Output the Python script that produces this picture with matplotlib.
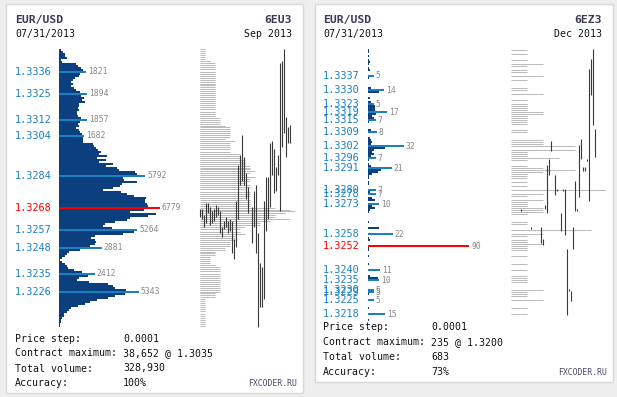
import matplotlib
matplotlib.use('Agg')
import matplotlib.pyplot as plt
import numpy as np
from matplotlib.patches import Rectangle
from matplotlib.transforms import offset_copy

W, H = 617, 397
TICK = 0.0001
MONO = 'DejaVu Sans Mono'
NAVY = '#0b3f7e'
BLUE = '#1a80c2'
RED = '#ff0000'

# ---------------- EUR/USD Sep 2013 (6EU3) ----------------
sep_top = 1.3347  # first level of the profile, one value per tick downward
sep_vol = [
    134, 268, 402, 402, 536, 134, 201, 1139, 1273, 1474,
    1608, 1821, 1407, 1340, 1072, 938, 804, 938, 804, 1005,
    1139, 1407, 1894, 1474, 1675, 1541, 1742, 1340, 1340, 1273,
    1340, 1206, 1206, 1273, 1474, 1857, 1407, 1273, 1340, 1139,
    1340, 1407, 1541, 1682, 1608, 1608, 1608, 2278, 2345, 2479,
    2613, 2814, 2680, 3216, 2546, 3149, 2680, 3618, 3149, 3886,
    4020, 5092, 5226, 5792, 4288, 4355, 5226, 4221, 4087, 3618,
    2948, 4154, 4556, 5025, 5829, 5762, 5762, 5896, 5963, 6779,
    5695, 4757, 6499, 5963, 4757, 4556, 3752, 3082, 2948, 3551,
    5264, 5025, 4288, 2410, 2144, 2400, 2479, 2420, 2077, 2881,
    1407, 670, 536, 402, 201, 67, 201, 402, 536, 603,
    1005, 1541, 2412, 1950, 1340, 1206, 2010, 3283, 3618, 3752,
    4489, 5343, 4422, 3752, 3283, 2546, 2077, 1742, 1273, 804,
    670, 536, 335, 335, 201, 134, 134, 67, 67,
]
sep_marks = [1.3336, 1.3325, 1.3312, 1.3304, 1.3284, 1.3268,
             1.3257, 1.3248, 1.3235, 1.3226]
sep_tpo = [
    1, 1, 1, 1, 1, 1, 2, 3, 3, 3,
    3, 3, 3, 3, 3, 3, 3, 3, 3, 3,
    3, 3, 3, 3, 3, 3, 3, 3, 3, 3,
    3, 3, 3, 3, 4, 4, 4, 4, 5, 6,
    6, 6, 6, 6, 6, 5, 7, 6, 6, 6,
    6, 6, 8, 8, 8, 9, 9, 9, 10, 10,
    10, 11, 10, 9, 11, 10, 10, 9, 10, 10,
    9, 10, 10, 10, 9, 10, 10, 10, 10, 15,
    18, 19, 17, 15, 15, 18, 14, 12, 12, 9,
    8, 8, 9, 7, 7, 7, 6, 6, 6, 5,
    5, 3, 3, 3, 2, 2, 2, 2, 3, 4,
    4, 4, 4, 4, 4, 4, 4, 4, 4, 4,
    4, 4, 3, 3, 3, 1, 1, 1, 1, 1,
    1, 1, 1, 1, 1, 1, 1, 1, 1,
]
nan = np.nan
sep_high = [1.3267, 1.3267, 1.3264, 1.3270, 1.3270, 1.3268, 1.3266, 1.3267, 1.3269, 1.3268,
            1.3266, 1.3258, 1.3261, 1.3263, 1.3261, 1.3262, 1.3261, 1.3252, 1.3271, 1.3289,
            1.3294, 1.3304, 1.3293, 1.3285, 1.3278, nan, 1.3268, 1.3276, 1.3279, 1.3255,
            1.3240, 1.3238, 1.3271, 1.3283, 1.3283, 1.3300, 1.3301, 1.3297, 1.3288, 1.3294,
            1.3340, 1.3341, 1.3347, 1.3313, 1.3308, 1.3309]
sep_low = [1.3264, 1.3263, 1.3259, 1.3261, 1.3266, 1.3260, 1.3261, 1.3262, 1.3264, 1.3265,
           1.3256, 1.3254, 1.3258, 1.3259, 1.3256, 1.3257, 1.3246, 1.3243, 1.3249, 1.3263,
           1.3280, 1.3282, 1.3280, 1.3273, 1.3266, nan, 1.3251, 1.3259, 1.3246, 1.3209,
           1.3219, 1.3219, 1.3223, 1.3257, 1.3263, 1.3269, 1.3285, 1.3276, 1.3277, 1.3285,
           1.3267, 1.3299, 1.3306, 1.3294, 1.3301, 1.3301]
sep_info = ['0.0001', '38,652 @ 1.3035', '328,930', '100%']

# ---------------- EUR/USD Dec 2013 (6EZ3) ----------------
dec_prices = [1.3350, 1.3349, 1.3347, 1.3345, 1.3344, 1.3343, 1.3341, 1.3340, 1.3337, 1.3336,
              1.3331, 1.3330, 1.3329, 1.3326, 1.3324, 1.3323, 1.3322, 1.3321, 1.3320, 1.3319,
              1.3318, 1.3317, 1.3316, 1.3315, 1.3314, 1.3310, 1.3309, 1.3306, 1.3305, 1.3304,
              1.3303, 1.3302, 1.3301, 1.3300, 1.3299, 1.3298, 1.3297, 1.3296, 1.3295, 1.3293,
              1.3292, 1.3291, 1.3290, 1.3289, 1.3288, 1.3287, 1.3286, 1.3284, 1.3283, 1.3280,
              1.3279, 1.3278, 1.3276, 1.3275, 1.3273, 1.3272, 1.3271, 1.3270, 1.3269, 1.3264,
              1.3261, 1.3258, 1.3256, 1.3255, 1.3252, 1.3251, 1.3250, 1.3247, 1.3243, 1.3240,
              1.3237, 1.3236, 1.3235, 1.3230, 1.3229, 1.3228, 1.3225, 1.3221, 1.3218, 1.3215]
dec_vols = [1, 1, 1, 1, 2, 1, 1, 2, 5, 1,
            3, 14, 10, 2, 3, 5, 6, 6, 6, 17,
            7, 4, 5, 7, 1, 3, 8, 2, 3, 4,
            3, 32, 15, 5, 4, 5, 3, 7, 1, 1,
            3, 21, 12, 9, 4, 1, 1, 1, 1, 7,
            2, 7, 4, 6, 10, 4, 6, 2, 1, 1,
            10, 22, 1, 2, 90, 1, 1, 1, 1, 11,
            2, 9, 10, 5, 5, 1, 5, 1, 15, 1]
dec_marks = [1.3337, 1.3330, 1.3323, 1.3319, 1.3315, 1.3309, 1.3302, 1.3296, 1.3291,
             1.3280, 1.3278, 1.3273, 1.3258, 1.3252, 1.3240, 1.3235, 1.3230, 1.3229,
             1.3225, 1.3218]
dec_tpo_prices = [1.3350, 1.3348, 1.3345, 1.3343, 1.3342, 1.3340, 1.3339, 1.3337, 1.3335, 1.3331,
                  1.3330, 1.3328, 1.3325, 1.3323, 1.3322, 1.3321, 1.3320, 1.3319, 1.3318, 1.3317,
                  1.3316, 1.3315, 1.3314, 1.3313, 1.3310, 1.3309, 1.3305, 1.3304, 1.3303, 1.3302,
                  1.3300, 1.3299, 1.3298, 1.3297, 1.3296, 1.3295, 1.3292, 1.3291, 1.3290, 1.3289,
                  1.3288, 1.3287, 1.3286, 1.3284, 1.3282, 1.3280, 1.3278, 1.3277, 1.3275, 1.3274,
                  1.3273, 1.3272, 1.3271, 1.3270, 1.3269, 1.3268, 1.3264, 1.3263, 1.3260, 1.3258,
                  1.3257, 1.3255, 1.3254, 1.3253, 1.3252, 1.3251, 1.3250, 1.3247, 1.3243, 1.3240,
                  1.3237, 1.3236, 1.3235, 1.3234, 1.3230, 1.3229, 1.3228, 1.3227, 1.3225, 1.3221,
                  1.3218]
dec_tpo = [1, 1, 1, 2, 1, 1, 1, 2, 1, 1,
           1, 2, 1, 1, 1, 1, 1, 2, 2, 1,
           1, 1, 1, 1, 1, 1, 2, 2, 2, 4,
           4, 1, 1, 1, 3, 1, 1, 2, 4, 2,
           1, 1, 1, 1, 1, 6, 2, 1, 2, 1,
           1, 1, 2, 2, 2, 1, 1, 1, 5, 2,
           1, 1, 1, 2, 1, 1, 1, 1, 1, 1,
           1, 1, 1, 1, 2, 1, 1, 1, 2, 1,
           1]
dec_high = [nan, nan, nan, nan, nan, nan, 1.3270, nan, nan, nan,
            nan, 1.3261, nan, nan, nan, nan, 1.3261, 1.3255, 1.3272, 1.3292,
            1.3295, 1.3304, nan, 1.3287, 1.3280, nan, 1.3268, 1.3280, 1.3280, 1.3250,
            1.3230, 1.3229, 1.3261, 1.3284, 1.3270, 1.3302, 1.3305, 1.3291, 1.3291, 1.3295,
            1.3340, 1.3345, 1.3350, 1.3310]
dec_low = [nan, nan, nan, nan, nan, nan, 1.3270, nan, nan, nan,
           nan, 1.3261, nan, nan, nan, nan, 1.3254, 1.3253, 1.3271, 1.3269,
           1.3288, 1.3300, nan, 1.3278, 1.3280, nan, 1.3260, 1.3280, 1.3258, 1.3218,
           1.3230, 1.3225, 1.3251, 1.3270, 1.3270, 1.3277, 1.3296, 1.3290, 1.3290, 1.3295,
           1.3275, 1.3328, 1.3313, 1.3297]
dec_info = ['0.0001', '235 @ 1.3200', '683', '73%']

info_labels = ['Price step:', 'Contract maximum:', 'Total volume:', 'Accuracy:']

fig = plt.figure(figsize=(W / 100, H / 100), dpi=100, facecolor='#eeeeee')


def px_axes(x0, y0, x1, y1):
    ax = fig.add_axes([x0 / W, 1 - y1 / H, (x1 - x0) / W, (y1 - y0) / H])
    ax.axis('off')
    return ax


def ftext(x, y, s, **kw):
    kw.setdefault('family', MONO)
    kw.setdefault('fontsize', 7.1)
    kw.setdefault('va', 'baseline')
    fig.text(x / W, 1 - y / H, s, **kw)


def draw_panel(box, ref, levels, vols, marks, tpo_levels, tpo, highs, lows,
               symbol, month, info, bar_x, label_x, tpo_x, tpo_px, text_y):
    x0, y0, x1, y1 = box
    fig.add_artist(Rectangle((x0 / W, 1 - y1 / H), (x1 - x0) / W, (y1 - y0) / H,
                             transform=fig.transFigure, facecolor='white',
                             edgecolor='#d8d8d8', lw=1, zorder=-5))
    # price axis: 2 px per tick, ref = (price, pixel y)
    top, bot = 40, 332
    ylim = (ref[0] - (bot - ref[1]) * TICK / 2, ref[0] + (ref[1] - top) * TICK / 2)

    levels = np.asarray(levels)
    vols = np.asarray(vols)
    vmax = vols.max()
    ax = px_axes(bar_x, top, bar_x + 140, bot)
    ax.set_ylim(*ylim)
    ax.set_xlim(0, 140 * vmax / 101)
    ax.barh(levels, vols, height=TICK, color=NAVY, linewidth=0)
    off = offset_copy(ax.transData, fig=fig, x=2, y=0, units='dots')
    lx = (label_x - bar_x) / 140
    for m in marks:
        v = vols[np.argmin(np.abs(levels - m))]
        c = RED if v == vmax else BLUE
        ax.barh([m], [v], height=TICK, color=c, linewidth=0)
        ax.text(v, m, str(v), transform=off, fontsize=5.8, family=MONO,
                color='#888888', va='center', ha='left')
        ax.text(lx, m, f'{m:.4f}', transform=ax.get_yaxis_transform(),
                fontsize=7.4, family=MONO, color=c, va='center', ha='left')

    # time-at-price profile
    tx = px_axes(tpo_x, top, tpo_x + 98, bot)
    tx.set_ylim(*ylim)
    tx.set_xlim(-0.2, 98 / tpo_px - 0.2)
    tx.hlines(np.asarray(tpo_levels) + TICK / 4, 0, tpo, color='#bbbbbb', lw=0.72)

    # price bars
    cx = px_axes(tpo_x, top, tpo_x + 98, bot)
    cx.set_ylim(*ylim)
    cx.set_xlim(-0.25, 48.75)
    highs = np.asarray(highs)
    lows = np.asarray(lows)
    idx = np.arange(len(highs))
    ok = ~np.isnan(highs)
    cx.vlines(idx[ok], lows[ok] - TICK / 2, highs[ok] + TICK / 2, color='#383838', lw=0.8)

    # header
    ftext(label_x, 23, 'EUR/USD', fontsize=8.2, weight='bold', color='#3b3b58')
    ftext(label_x, 37, '07/31/2013', color='#111111')
    ftext(x1 - 11, 23, symbol, fontsize=8.2, weight='bold', color='#3b3b58', ha='right')
    ftext(x1 - 11, 37, month, color='#111111', ha='right')

    # footer
    for i, (lab, val) in enumerate(zip(info_labels, info)):
        y = text_y + 15 * i
        ftext(label_x, y, lab, color='#111111')
        ftext(label_x + 108, y, val, color='#111111')
    ftext(x1 - 6, text_y + 45, 'FXCODER.RU', fontsize=5.9, color='#4a4a6a', ha='right')


sep_levels = np.round(sep_top - TICK * np.arange(len(sep_vol)), 4)
draw_panel((6, 4, 303, 393), (1.3336, 72), sep_levels, sep_vol, sep_marks,
           sep_levels, sep_tpo, sep_high, sep_low, '6EU3', 'Sep 2013', sep_info,
           bar_x=59, label_x=15, tpo_x=199, tpo_px=5, text_y=341.5)
draw_panel((315, 4, 613, 382), (1.3337, 76), dec_prices, dec_vols, dec_marks,
           dec_tpo_prices, dec_tpo, dec_high, dec_low, '6EZ3', 'Dec 2013', dec_info,
           bar_x=368, label_x=323, tpo_x=508, tpo_px=16, text_y=330)

fig.savefig('out.png', dpi=100, facecolor=fig.get_facecolor())
